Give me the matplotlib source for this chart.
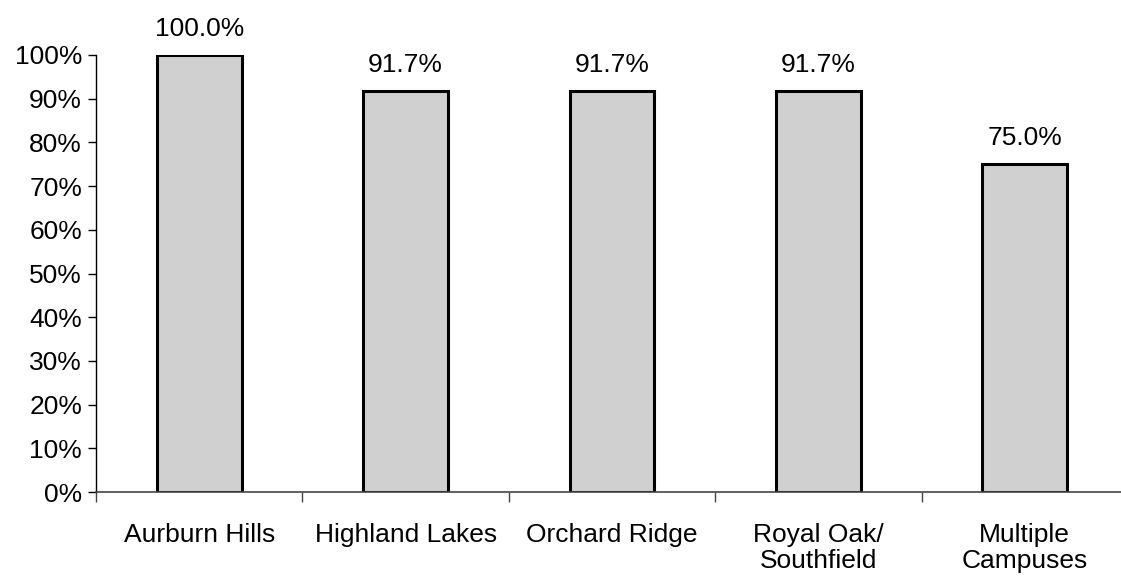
import matplotlib.pyplot as plt
import numpy as np

plt.rcParams['font.family'] = ['Liberation Sans', 'DejaVu Sans']

# Data
campuses = ["Aurburn Hills", "Highland Lakes", "Orchard Ridge", "Royal Oak/\nSouthfield", "Multiple\nCampuses"]
pct = [100.0, 91.7, 91.7, 91.7, 75.0]
y_ticks = list(range(0, 101, 10))

FS = 19

fig = plt.figure(figsize=(11.21, 5.77), dpi=100)
W, H = 1121, 577
# axes box in pixels: left 96, right 1128, top 55, bottom 492
ax = fig.add_axes([96 / W, (H - 492) / H, (1128 - 96) / W, (492 - 55) / H])

x = np.arange(len(campuses))
ax.bar(x, pct, width=0.41, color='#d0d0d0', edgecolor='black', linewidth=2.2, zorder=2)

for xi, v in zip(x, pct):
    ax.annotate(f"{v:.1f}%", xy=(xi, v), xytext=(0, 10), textcoords='offset points',
                ha='center', va='bottom', fontsize=FS)

ax.set_xlim(-0.5, len(campuses) - 0.5)
ax.set_ylim(0, 100)
ax.set_yticks(y_ticks)
ax.set_yticklabels([f"{t}%" for t in y_ticks], fontsize=FS)

# category ticks at boundaries, labels at centers
ax.set_xticks(np.arange(len(campuses) + 1) - 0.5)
ax.set_xticklabels([])
ax.set_xticks(x, minor=True)
ax.set_xticklabels(campuses, minor=True, fontsize=FS, linespacing=1.15)
ax.tick_params(axis='x', which='minor', length=0, pad=22)
ax.tick_params(axis='x', which='major', length=7, width=1, color='#444444', direction='out')
ax.tick_params(axis='y', length=6, width=1, direction='out', pad=4)

for s in ['top', 'right']:
    ax.spines[s].set_visible(False)
ax.spines['left'].set_linewidth(1)
ax.spines['bottom'].set_linewidth(1.2)
ax.spines['bottom'].set_color('#444444')

fig.savefig("out.png", dpi=100)
